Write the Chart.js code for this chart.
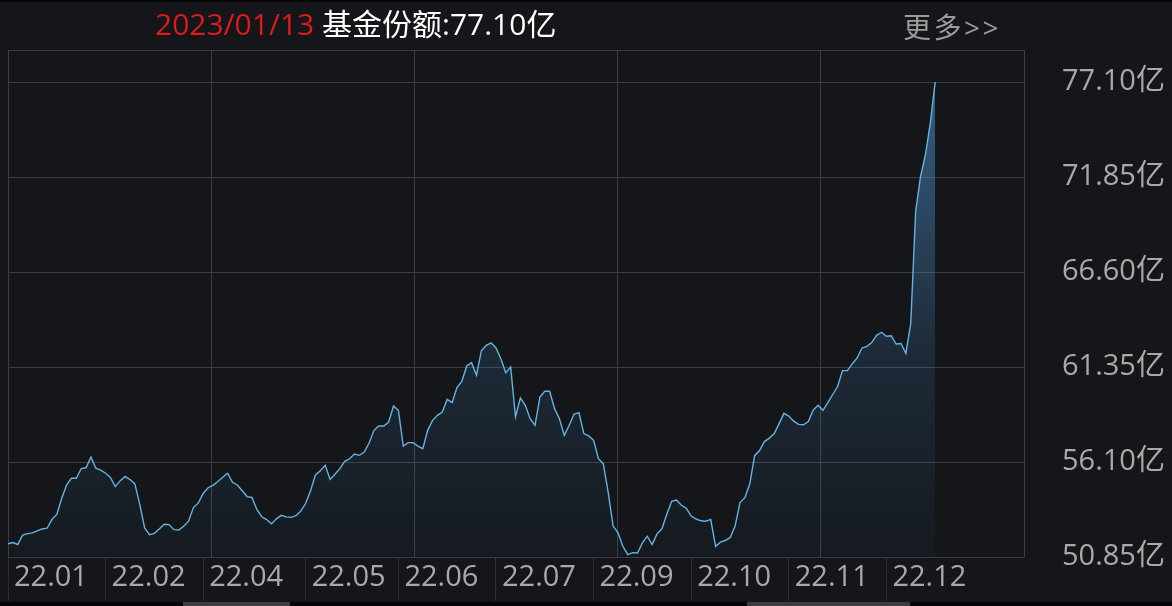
<!DOCTYPE html>
<html>
<head>
<meta charset="utf-8">
<script src="https://cdn.jsdelivr.net/npm/chart.js@4.4.0/dist/chart.umd.min.js"></script>
<style>
    html, body { margin: 0; padding: 0; background: #14161a; }
    #wrap { position: relative; width: 1172px; height: 606px; overflow: hidden; background: #14161a; }
    #chart { position: absolute; left: 0; top: 0; }
    #title {
        position: absolute; left: 155px; top: 0px; white-space: nowrap;
        font: 30px 'Open Sans', 'Noto Sans CJK SC', sans-serif; color: #ffffff;
    }
    #title .date { color: #dc1a1f; }
    #more {
        position: absolute; left: 903px; top: 6px; white-space: nowrap;
        font: 28px 'Open Sans', 'Noto Sans CJK SC', sans-serif; color: #9c9c9c; letter-spacing: 2.5px;
    }
    .edge { position: absolute; left: 0; width: 1172px; background: #050607; }
    .seg { position: absolute; bottom: 0; height: 4px; background: #3a3c41; }
</style>
</head>
<body>
<div id="wrap">
    <canvas id="chart" width="1172" height="606"></canvas>
    <div id="title"><span class="date">2023/01/13</span> 基金份额:77.10亿</div>
    <div id="more">更多&gt;&gt;</div>
    <div class="edge" style="top:0;height:2px"></div>
    <div class="edge" style="bottom:0;height:4px"></div>
    <div class="seg" style="left:183px;width:107px"></div>
    <div class="seg" style="left:747px;width:163px"></div>
</div>
<script>
/* ── Fund share (亿份), one value per trading day, 2022-01 → 2023-01-13 ── */
const shareValues = [
    51.58, 51.65, 51.54, 52.06, 52.14, 52.18, 52.29, 52.40, 52.44, 52.92,
    53.20, 54.08, 54.83, 55.20, 55.20, 55.74, 55.78, 56.38, 55.76, 55.65,
    55.48, 55.24, 54.74, 55.07, 55.30, 55.13, 54.89, 53.76, 52.46, 52.08,
    52.16, 52.40, 52.66, 52.64, 52.36, 52.34, 52.55, 52.83, 53.58, 53.84,
    54.36, 54.68, 54.81, 55.02, 55.26, 55.48, 54.98, 54.83, 54.51, 54.19,
    54.14, 53.48, 53.07, 52.92, 52.68, 52.96, 53.15, 53.07, 53.04, 53.13,
    53.39, 53.82, 54.51, 55.39, 55.62, 55.92, 55.14, 55.42, 55.73, 56.14,
    56.28, 56.54, 56.47, 56.65, 57.15, 57.85, 58.09, 58.09, 58.31, 59.19,
    58.96, 56.98, 57.17, 57.17, 56.98, 56.84, 57.85, 58.40, 58.68, 58.86,
    59.56, 59.38, 60.21, 60.56, 61.41, 61.59, 60.90, 62.25, 62.55, 62.69,
    62.40, 61.81, 61.04, 61.35, 58.60, 59.64, 59.23, 58.49, 58.13, 59.69,
    60.01, 60.01, 59.05, 58.49, 57.57, 58.13, 58.75, 58.83, 57.67, 57.54,
    57.30, 56.28, 56.00, 54.41, 52.56, 52.19, 51.44, 50.98, 51.09, 51.07,
    51.63, 52.00, 51.54, 52.13, 52.41, 53.21, 53.93, 54.00, 53.71, 53.54,
    53.11, 52.95, 52.85, 52.83, 52.93, 51.44, 51.67, 51.76, 51.93, 52.56,
    53.86, 54.13, 54.88, 56.45, 56.73, 57.23, 57.42, 57.66, 58.21, 58.79,
    58.64, 58.36, 58.18, 58.16, 58.34, 58.96, 59.24, 58.96, 59.38, 59.83,
    60.27, 61.15, 61.15, 61.52, 61.85, 62.40, 62.49, 62.70, 63.10, 63.27,
    63.05, 63.08, 62.62, 62.65, 62.10, 63.78, 69.95, 71.89, 73.08, 74.83,
    77.10
];

/* ── Axis labels ── */
const monthLabels = ['22.01', '22.02', '22.04', '22.05', '22.06', '22.07', '22.09', '22.10', '22.11', '22.12'];
const monthIndex  = [0, 20, 40, 61, 80, 100, 120, 140, 160, 180];
const yTicks      = [50.85, 56.10, 61.35, 66.60, 71.85, 77.10];

const X_END = 208.2;   // axis runs a bit past the last trading day
const Y_MIN = 50.85;
const Y_MAX = 78.87;

const FONT = "'Open Sans', 'Noto Sans CJK SC', sans-serif";
const GRID = '#3a3d43';
const TEXT = '#a9a9a9';

(function () {
    'use strict';

    const points = shareValues.map((v, i) => ({ x: i, y: v }));

    function areaGradient(context) {
        const { chart } = context;
        const area = chart.chartArea;
        if (!area) return 'rgba(0,0,0,0)';
        const g = chart.ctx.createLinearGradient(0, area.top, 0, area.bottom);
        g.addColorStop(0, 'rgba(80,150,210,0.6)');
        g.addColorStop(0.3, 'rgba(80,150,210,0.4)');
        g.addColorStop(0.6, 'rgba(80,150,210,0.16)');
        g.addColorStop(1, 'rgba(80,150,210,0.03)');
        return g;
    }

    new Chart(document.getElementById('chart'), {
        type: 'line',
        data: {
            datasets: [{
                data: points,
                xAxisID: 'x',
                yAxisID: 'y',
                borderColor: '#66b3e2',
                borderWidth: 1.4,
                backgroundColor: areaGradient,
                fill: 'start',
                pointRadius: 0,
                tension: 0,
            }],
        },
        options: {
            responsive: false,
            animation: false,
            layout: { padding: { left: 8, top: 50, right: 0, bottom: 0 } },
            plugins: { legend: { display: false }, tooltip: { enabled: false } },
            scales: {
                x: {
                    type: 'linear',
                    position: 'bottom',
                    min: 0,
                    max: X_END,
                    afterBuildTicks: (s) => {
                        s.ticks = [0, 1, 2, 3, 4, 5].map((k) => ({ value: X_END * k / 5 }));
                    },
                    afterFit: (s) => { s.height = 0; },
                    ticks: { display: false },
                    grid: { color: GRID, drawTicks: false },
                    border: { display: false },
                },
                x2: {
                    type: 'linear',
                    position: 'bottom',
                    min: 0,
                    max: X_END,
                    afterBuildTicks: (s) => {
                        s.ticks = monthIndex.map((v) => ({ value: v }));
                    },
                    afterFit: (s) => { s.height = 49; },
                    ticks: {
                        callback: (v, i) => monthLabels[i],
                        align: 'start',
                        labelOffset: 6,
                        padding: -41,
                        autoSkip: false,
                        maxRotation: 0,
                        color: TEXT,
                        font: { family: FONT, size: 29 },
                    },
                    grid: { drawOnChartArea: false, drawTicks: true, tickLength: 44, color: '#2c2f35' },
                    border: { display: false },
                },
                y: {
                    position: 'right',
                    min: Y_MIN,
                    max: Y_MAX,
                    afterBuildTicks: (s) => {
                        s.ticks = yTicks.concat([Y_MAX]).map((v) => ({ value: v }));
                    },
                    afterFit: (s) => { s.width = 148; },
                    ticks: {
                        callback: (v) => (v === Y_MAX ? '' : v.toFixed(2) + '亿'),
                        padding: 0,
                        autoSkip: false,
                        color: TEXT,
                        font: { family: FONT, size: 29 },
                    },
                    // invisible tick marks give the gap between plot and labels
                    grid: { color: GRID, drawTicks: true, tickLength: 38, tickColor: 'rgba(0,0,0,0)' },
                    border: { display: false },
                },
            },
        },
    });
})();
</script>
</body>
</html>
